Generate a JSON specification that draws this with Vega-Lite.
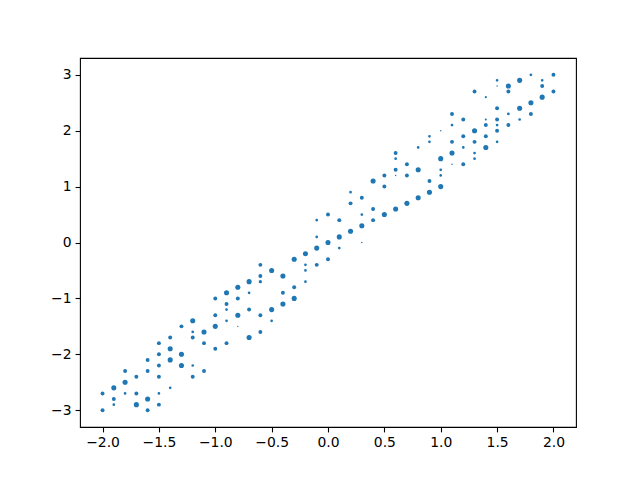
{
  "$schema": "https://vega.github.io/schema/vega-lite/v6.json",
  "width": 496,
  "height": 369,
  "autosize": {"type": "none"},
  "padding": {"left": 80, "top": 58, "right": 64, "bottom": 53},
  "background": "white",
  "config": {
    "view": {"stroke": "#000", "strokeWidth": 1.1},
    "axis": {
      "grid": false,
      "domain": false,
      "title": null,
      "tickColor": "#000",
      "tickSize": 4.9,
      "tickWidth": 1.1,
      "labelFont": "DejaVu Sans",
      "labelFontSize": 13.9,
      "labelColor": "#000",
      "labelPadding": 4,
      "labelFlush": false,
      "labelOverlap": false
    }
  },
  "data": {
    "values": [
      {"x": -2.0, "y": -2.7, "s": 3}, {"x": -2.0, "y": -3.0, "s": 3},
      {"x": -1.9, "y": -2.6, "s": 4}, {"x": -1.9, "y": -2.8, "s": 3}, {"x": -1.9, "y": -2.9, "s": 2},
      {"x": -1.8, "y": -2.3, "s": 3}, {"x": -1.8, "y": -2.5, "s": 4}, {"x": -1.8, "y": -2.7, "s": 2},
      {"x": -1.7, "y": -2.4, "s": 3}, {"x": -1.7, "y": -2.7, "s": 3}, {"x": -1.7, "y": -2.9, "s": 4},
      {"x": -1.6, "y": -2.1, "s": 3}, {"x": -1.6, "y": -2.3, "s": 3}, {"x": -1.6, "y": -2.8, "s": 4}, {"x": -1.6, "y": -3.0, "s": 3},
      {"x": -1.5, "y": -1.8, "s": 3}, {"x": -1.5, "y": -2.0, "s": 3}, {"x": -1.5, "y": -2.2, "s": 3}, {"x": -1.5, "y": -2.4, "s": 3}, {"x": -1.5, "y": -2.7, "s": 2}, {"x": -1.5, "y": -2.9, "s": 3},
      {"x": -1.4, "y": -1.7, "s": 3}, {"x": -1.4, "y": -1.9, "s": 4}, {"x": -1.4, "y": -2.1, "s": 4}, {"x": -1.4, "y": -2.6, "s": 2},
      {"x": -1.3, "y": -1.5, "s": 3}, {"x": -1.3, "y": -2.0, "s": 4}, {"x": -1.3, "y": -2.2, "s": 4},
      {"x": -1.2, "y": -1.4, "s": 4}, {"x": -1.2, "y": -1.6, "s": 2}, {"x": -1.2, "y": -1.7, "s": 3}, {"x": -1.2, "y": -2.2, "s": 2}, {"x": -1.2, "y": -2.4, "s": 3},
      {"x": -1.1, "y": -1.6, "s": 4}, {"x": -1.1, "y": -1.8, "s": 3}, {"x": -1.1, "y": -2.3, "s": 3},
      {"x": -1.0, "y": -1.0, "s": 3}, {"x": -1.0, "y": -1.3, "s": 3}, {"x": -1.0, "y": -1.5, "s": 4}, {"x": -1.0, "y": -1.9, "s": 3},
      {"x": -0.9, "y": -0.9, "s": 4}, {"x": -0.9, "y": -1.1, "s": 3}, {"x": -0.9, "y": -1.2, "s": 2}, {"x": -0.9, "y": -1.4, "s": 2}, {"x": -0.9, "y": -1.8, "s": 3},
      {"x": -0.8, "y": -0.8, "s": 4}, {"x": -0.8, "y": -1.0, "s": 3}, {"x": -0.8, "y": -1.3, "s": 4}, {"x": -0.8, "y": -1.5, "s": 1},
      {"x": -0.7, "y": -0.7, "s": 4}, {"x": -0.7, "y": -0.9, "s": 2}, {"x": -0.7, "y": -1.2, "s": 3}, {"x": -0.7, "y": -1.7, "s": 4},
      {"x": -0.6, "y": -0.4, "s": 3}, {"x": -0.6, "y": -0.6, "s": 3}, {"x": -0.6, "y": -0.7, "s": 2.5}, {"x": -0.6, "y": -1.3, "s": 3}, {"x": -0.6, "y": -1.6, "s": 3},
      {"x": -0.5, "y": -0.5, "s": 4}, {"x": -0.5, "y": -1.2, "s": 4}, {"x": -0.5, "y": -1.4, "s": 2},
      {"x": -0.4, "y": -0.6, "s": 4}, {"x": -0.4, "y": -0.9, "s": 3}, {"x": -0.4, "y": -1.1, "s": 4},
      {"x": -0.3, "y": -0.3, "s": 4}, {"x": -0.3, "y": -0.8, "s": 3}, {"x": -0.3, "y": -1.0, "s": 4},
      {"x": -0.2, "y": -0.2, "s": 4}, {"x": -0.2, "y": -0.4, "s": 2}, {"x": -0.2, "y": -0.5, "s": 2}, {"x": -0.2, "y": -0.7, "s": 2},
      {"x": -0.1, "y": 0.4, "s": 2}, {"x": -0.1, "y": 0.1, "s": 2}, {"x": -0.1, "y": -0.1, "s": 4}, {"x": -0.1, "y": -0.4, "s": 3},
      {"x": 0.0, "y": 0.5, "s": 3}, {"x": 0.0, "y": 0.0, "s": 4}, {"x": 0.0, "y": -0.3, "s": 3},
      {"x": 0.1, "y": 0.4, "s": 3}, {"x": 0.1, "y": 0.1, "s": 4}, {"x": 0.1, "y": -0.1, "s": 2},
      {"x": 0.2, "y": 0.9, "s": 2}, {"x": 0.2, "y": 0.7, "s": 3}, {"x": 0.2, "y": 0.2, "s": 4},
      {"x": 0.3, "y": 0.8, "s": 3}, {"x": 0.3, "y": 0.5, "s": 2}, {"x": 0.3, "y": 0.3, "s": 4}, {"x": 0.3, "y": 0.0, "s": 1},
      {"x": 0.4, "y": 1.1, "s": 4}, {"x": 0.4, "y": 0.6, "s": 3}, {"x": 0.4, "y": 0.4, "s": 3},
      {"x": 0.5, "y": 1.2, "s": 3}, {"x": 0.5, "y": 1.0, "s": 3}, {"x": 0.5, "y": 0.5, "s": 4},
      {"x": 0.6, "y": 1.6, "s": 3}, {"x": 0.6, "y": 1.5, "s": 2}, {"x": 0.6, "y": 1.3, "s": 3}, {"x": 0.6, "y": 1.2, "s": 1}, {"x": 0.6, "y": 0.6, "s": 4},
      {"x": 0.7, "y": 1.4, "s": 3}, {"x": 0.7, "y": 1.2, "s": 3}, {"x": 0.7, "y": 0.7, "s": 4},
      {"x": 0.8, "y": 1.7, "s": 2}, {"x": 0.8, "y": 1.3, "s": 4}, {"x": 0.8, "y": 0.8, "s": 4},
      {"x": 0.9, "y": 1.9, "s": 2}, {"x": 0.9, "y": 1.8, "s": 2}, {"x": 0.9, "y": 1.1, "s": 3}, {"x": 0.9, "y": 0.9, "s": 4},
      {"x": 1.0, "y": 2.0, "s": 1}, {"x": 1.0, "y": 1.5, "s": 4}, {"x": 1.0, "y": 1.3, "s": 2}, {"x": 1.0, "y": 1.2, "s": 2}, {"x": 1.0, "y": 1.0, "s": 4},
      {"x": 1.1, "y": 2.3, "s": 3}, {"x": 1.1, "y": 2.1, "s": 2}, {"x": 1.1, "y": 1.8, "s": 3}, {"x": 1.1, "y": 1.6, "s": 4}, {"x": 1.1, "y": 1.4, "s": 1},
      {"x": 1.2, "y": 2.2, "s": 3}, {"x": 1.2, "y": 1.9, "s": 3}, {"x": 1.2, "y": 1.7, "s": 2}, {"x": 1.2, "y": 1.4, "s": 3},
      {"x": 1.3, "y": 2.7, "s": 3}, {"x": 1.3, "y": 2.0, "s": 4}, {"x": 1.3, "y": 1.8, "s": 3}, {"x": 1.3, "y": 1.6, "s": 2}, {"x": 1.3, "y": 1.5, "s": 2},
      {"x": 1.4, "y": 2.6, "s": 1.5}, {"x": 1.4, "y": 2.2, "s": 1.5}, {"x": 1.4, "y": 2.1, "s": 3}, {"x": 1.4, "y": 1.9, "s": 3}, {"x": 1.4, "y": 1.7, "s": 4},
      {"x": 1.5, "y": 2.9, "s": 2}, {"x": 1.5, "y": 2.8, "s": 1}, {"x": 1.5, "y": 2.4, "s": 3}, {"x": 1.5, "y": 2.2, "s": 3}, {"x": 1.5, "y": 2.1, "s": 2}, {"x": 1.5, "y": 2.0, "s": 3}, {"x": 1.5, "y": 1.8, "s": 2},
      {"x": 1.6, "y": 2.8, "s": 4}, {"x": 1.6, "y": 2.7, "s": 3}, {"x": 1.6, "y": 2.3, "s": 2}, {"x": 1.6, "y": 2.1, "s": 3},
      {"x": 1.7, "y": 2.9, "s": 4}, {"x": 1.7, "y": 2.4, "s": 4}, {"x": 1.7, "y": 2.2, "s": 2},
      {"x": 1.8, "y": 3.0, "s": 2}, {"x": 1.8, "y": 2.5, "s": 4}, {"x": 1.8, "y": 2.3, "s": 3},
      {"x": 1.9, "y": 2.9, "s": 2}, {"x": 1.9, "y": 2.8, "s": 3}, {"x": 1.9, "y": 2.6, "s": 4},
      {"x": 2.0, "y": 3.0, "s": 3}, {"x": 2.0, "y": 2.7, "s": 3}
    ]
  },
  "mark": {"type": "circle", "color": "#1f77b4", "opacity": 1},
  "encoding": {
    "x": {
      "field": "x",
      "type": "quantitative",
      "scale": {"domain": [-2.2, 2.2], "nice": false, "zero": false},
      "axis": {"values": [-2, -1.5, -1, -0.5, 0, 0.5, 1, 1.5, 2], "format": ".1f"}
    },
    "y": {
      "field": "y",
      "type": "quantitative",
      "scale": {"domain": [-3.3, 3.3], "nice": false, "zero": false},
      "axis": {"values": [-3, -2, -1, 0, 1, 2, 3], "format": "d"}
    },
    "size": {
      "field": "s",
      "type": "quantitative",
      "scale": {"type": "pow", "exponent": 1.8, "domain": [0, 4], "range": [0, 26]},
      "legend": null
    }
  }
}
